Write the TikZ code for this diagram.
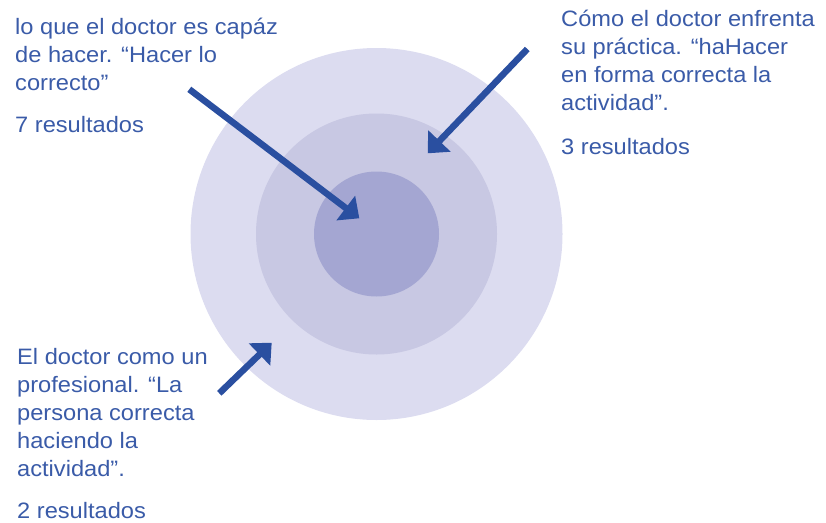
\documentclass[tikz,border=0pt]{standalone}
\usepackage{fontspec}
\setmainfont[FakeStretch=1.06]{Liberation Sans}
\usetikzlibrary{arrows.meta}
\definecolor{ringA}{HTML}{DCDCF0}
\definecolor{ringB}{HTML}{C8C8E3}
\definecolor{ringC}{HTML}{A4A6D2}
\definecolor{arrowblue}{HTML}{2A4FA0}
\definecolor{textblue}{HTML}{3A5BA8}
\tikzset{
  ring/.style={circle, draw=none, inner sep=0pt, minimum size=#1},
  label/.style={anchor=base west, align=left, inner sep=0pt, text=textblue,
    font=\fontsize{22.3}{27.8}\selectfont},
  pointer/.style={draw=arrowblue, line width=6.5pt, -{Triangle[length=17pt,width=30pt]}}
}
\begin{document}
\begin{tikzpicture}[x=1pt,y=-1pt]
\useasboundingbox (0,0) rectangle (826,522);
\node[ring=372pt, fill=ringA] (outer) at (376.5,234) {};
\node[ring=241pt, fill=ringB] (middle) at (376.5,234) {};
\node[ring=125pt, fill=ringC] (inner) at (376.5,234) {};

% base anchor of a multi-line node = baseline of its last line
\node[label] (tl) at (15,90) {lo que el doctor es capáz\\de hacer. “Hacer lo\\correcto”};
\node[label] (tlr) at (15,132) {7 resultados};
\node[label] (tr) at (561,110) {Cómo el doctor enfrenta\\su práctica. “haHacer\\en forma correcta la\\actividad”.};
\node[label] (trr) at (561,154) {3 resultados};
\node[label] (bl) at (17,476) {El doctor como un\\profesional. “La\\persona correcta\\haciendo la\\actividad”.};
\node[label] (blr) at (17,518) {2 resultados};

\coordinate (s1) at (189.3,89.3);
\coordinate (t1) at (359.3,218.3);
\coordinate (s2) at (527.3,49);
\coordinate (t2) at (427.7,153.3);
\coordinate (s3) at (219.3,393.3);
\coordinate (t3) at (271.7,342.7);
\draw[pointer] (s1) -- (t1);
\draw[pointer] (s2) -- (t2);
\draw[pointer] (s3) -- (t3);
\end{tikzpicture}
\end{document}
